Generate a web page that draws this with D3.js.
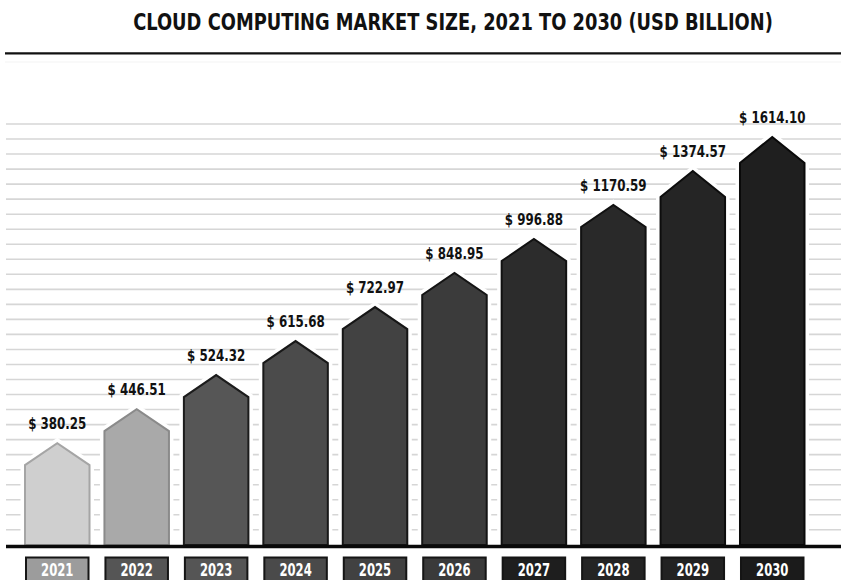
<!DOCTYPE html>
<html>
<head>
<meta charset="utf-8">
<script src="https://cdn.jsdelivr.net/npm/d3@7"></script>
<style>
  html, body { margin: 0; padding: 0; background: #fff; }
  svg { display: block; }
  text { font-family: "DejaVu Sans Condensed", "DejaVu Sans", sans-serif; font-weight: bold; }
</style>
</head>
<body>
<div id="chart"></div>
<script>
const years = ['2021', '2022', '2023', '2024', '2025', '2026', '2027', '2028', '2029', '2030'];
const marketSize = [380.25, 446.51, 524.32, 615.68, 722.97, 848.95, 996.88, 1170.59, 1374.57, 1614.10];
const valueLabels = ['$ 380.25', '$ 446.51', '$ 524.32', '$ 615.68', '$ 722.97', '$ 848.95', '$ 996.88', '$ 1170.59', '$ 1374.57', '$ 1614.10'];
const title = 'CLOUD COMPUTING MARKET SIZE, 2021 TO 2030 (USD BILLION)';

// shading per bar, light to dark
const barFill = ['#cfcfcf', '#a9a9a9', '#565656', '#4b4b4b', '#424242', '#3b3b3b', '#2c2c2c', '#292929', '#252525', '#1f1f1f'];
const barStroke = ['#a5a5a5', '#8a8a8a', '#1c1c1c', '#181818', '#161616', '#141414', '#111', '#111', '#0d0d0d', '#0a0a0a'];
const boxFill = ['#9c9c9c', '#555555', '#555555', '#4a4a4a', '#414141', '#3a3a3a', '#1e1e1e', '#242424', '#222222', '#1b1b1b'];

const width = 841, height = 580;
const baseY = 545;

const data = years.map((year, i) => ({ year, value: marketSize[i], label: valueLabels[i], i }));

const svg = d3.select('#chart').append('svg')
  .attr('width', width)
  .attr('height', height);

// title: condensed look by squeezing horizontally
const titleText = svg.append('text')
  .attr('text-anchor', 'middle')
  .style('font-size', '23px')
  .style('fill', '#111')
  .text(title);
const tw = titleText.node().getComputedTextLength();
titleText.attr('transform', `translate(453,29.5) scale(${640 / tw},1)`);

svg.append('line')
  .attr('x1', 5).attr('x2', width)
  .attr('y1', 53.3).attr('y2', 53.3)
  .style('stroke', '#111')
  .style('stroke-width', 2.2);

svg.append('line')
  .attr('x1', 5).attr('x2', width)
  .attr('y1', 62).attr('y2', 62)
  .style('stroke', '#f3f3f3')
  .style('stroke-width', 1);

// background ruling
svg.append('g')
  .selectAll('line')
  .data(d3.range(28))
  .enter()
  .append('line')
  .attr('x1', 6).attr('x2', width)
  .attr('y1', k => 124 + k * 15.03)
  .attr('y2', k => 124 + k * 15.03)
  .style('stroke', '#d6d6d6')
  .style('stroke-width', 1.6);

const x = d3.scaleBand()
  .domain(years)
  .range([25, 804.5])
  .paddingInner(0.188)
  .paddingOuter(0);

// heights in the infographic follow a log scale
const y = d3.scaleLog()
  .domain([235, 1614.10])
  .range([baseY, 137]);

const bw = x.bandwidth();
const roof = d => d.i >= 8 ? 26 : 22;

function barPath(d) {
  const x0 = x(d.year), x1 = x0 + bw, yp = y(d.value), ys = yp + roof(d);
  return `M${x0},${baseY}L${x0},${ys}L${x0 + bw / 2},${yp}L${x1},${ys}L${x1},${baseY}Z`;
}

// white halo so the ruling stops short of each bar
svg.append('g')
  .selectAll('path')
  .data(data)
  .enter()
  .append('path')
  .attr('d', barPath)
  .style('fill', '#fff')
  .style('stroke', '#fff')
  .style('stroke-width', 9)
  .style('stroke-linejoin', 'miter');

svg.append('g')
  .selectAll('path')
  .data(data)
  .enter()
  .append('path')
  .attr('d', barPath)
  .style('fill', d => barFill[d.i])
  .style('stroke', d => barStroke[d.i])
  .style('stroke-width', 2)
  .style('stroke-linejoin', 'miter');

svg.append('line')
  .attr('x1', 6).attr('x2', width)
  .attr('y1', baseY + 1.5).attr('y2', baseY + 1.5)
  .style('stroke', '#0a0a0a')
  .style('stroke-width', 3.5);

// value labels
svg.append('g')
  .selectAll('text')
  .data(data)
  .enter()
  .append('text')
  .attr('transform', d => `translate(${x(d.year) + bw / 2},${y(d.value) - 14.5}) scale(0.8,1)`)
  .attr('text-anchor', 'middle')
  .style('font-size', '16.5px')
  .style('fill', '#111')
  .text(d => d.label);

// year boxes along the bottom
const boxes = svg.append('g')
  .selectAll('g')
  .data(data)
  .enter()
  .append('g');

boxes.append('rect')
  .attr('x', d => x(d.year) + 1)
  .attr('y', 557.5)
  .attr('width', bw - 2)
  .attr('height', 30)
  .style('fill', d => boxFill[d.i])
  .style('stroke', '#151515')
  .style('stroke-width', 2);

boxes.append('text')
  .attr('transform', d => `translate(${x(d.year) + bw / 2},575.5) scale(0.74,1)`)
  .attr('text-anchor', 'middle')
  .style('font-size', '17.5px')
  .style('fill', '#fff')
  .text(d => d.year);
</script>
</body>
</html>
